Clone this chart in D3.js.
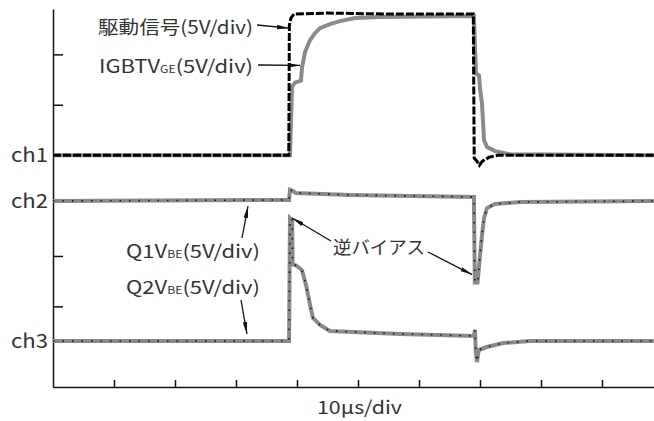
<!DOCTYPE html>
<html>
<head>
<meta charset="utf-8">
<script src="https://cdn.jsdelivr.net/npm/d3@7"></script>
<style>
body { margin: 0; background: #fff; }
text { font-family: "Noto Sans CJK JP", "Noto Sans", sans-serif; fill: #333; }
</style>
</head>
<body>
<div id="chart"></div>
<script>
// time in µs, voltage in V (5V/div), each channel has its own offset in divisions
var xTicks = [10, 20, 30, 40, 50, 60, 70, 80, 90];
var yTicks = [2, 1, -2, -3];
var channels = ["ch1", "ch2", "ch3"];
var offsets = [0, -0.909, -3.687];

// 駆動信号 (black, ch1)
var driveT = [0, 38.65, 38.75, 39.0, 39.5, 45, 55, 68.9, 69.05, 69.5, 69.9, 70.4, 71.5, 73, 98.5];
var driveV = [0, 0, 12.9, 13.6, 14.0, 14.1, 14.0, 14.0, -0.3, -0.6, -1.0, -0.6, -0.2, 0, 0];

// IGBT VGE (gray, ch1)
var vgeT = [0, 38.85, 39.18, 39.67, 40.66, 40.82, 41.31, 42.13, 42.95, 43.77, 45.41, 47.05, 49.5, 53.6, 69.0, 69.34, 69.84, 70.0, 70.33, 70.66, 71.15, 72.46, 74.9, 98.5];
var vgeV = [0, 0, 6.8, 7.2, 7.4, 8.7, 10.2, 11.4, 12.1, 12.6, 13.0, 13.3, 13.6, 13.7, 13.8, 8.1, 7.9, 6.6, 5.1, 1.5, 0.8, 0.4, 0.1, 0];

// Q1 VBE (gray, ch2)
var q1T = [0, 38.7, 38.85, 39.3, 39.8, 48.7, 69.0, 69.15, 69.6, 70.0, 70.33, 70.66, 71.15, 72.46, 76.6, 98.5];
var q1V = [0, 0.1, 1.1, 1.0, 0.8, 0.6, 0.4, -8.1, -8.1, -5.4, -3.4, -1.7, -0.7, -0.3, -0.1, 0];

// Q2 VBE (gray, ch3)
var q2T = [0, 38.7, 38.85, 39.2, 39.28, 39.8, 40.5, 40.82, 41.5, 42.13, 42.6, 43.77, 45.4, 56.9, 69.0, 69.18, 69.3, 69.5, 69.8, 71.1, 73.8, 78.2, 98.5];
var q2V = [0, 0, 12.2, 12.0, 7.6, 7.5, 7.2, 7.0, 5.5, 3.6, 2.3, 1.6, 1.0, 0.7, 0.5, 1.1, -1.0, -2.1, -0.9, -0.6, -0.2, 0, 0];

var width = 654, height = 421;

var svg = d3.select("#chart")
	.append("svg")
	.attr("width", width)
	.attr("height", height);

var x = d3.scaleLinear().domain([0, 100]).range([53, 663]);
var y = d3.scaleLinear().domain([-4.6, 2.9]).range([387, 9]);

function pts(ts, vs, ch) {
	return ts.map(function(t, i) { return [t, offsets[ch] + vs[i] / 5]; });
}
var line = d3.line()
	.x(function(d) { return x(d[0]); })
	.y(function(d) { return y(d[1]); });

var defs = svg.append("defs");
defs.append("marker")
	.attr("id", "arr")
	.attr("viewBox", "0 -3 12 6")
	.attr("refX", 12).attr("refY", 0)
	.attr("markerWidth", 12).attr("markerHeight", 6)
	.attr("markerUnits", "userSpaceOnUse")
	.attr("orient", "auto")
	.append("path")
	.attr("d", "M0,-2.2L12,0L0,2.2Z")
	.attr("fill", "#111");

// axes
svg.append("g")
	.attr("transform", "translate(53,0)")
	.call(d3.axisRight(y).tickValues(yTicks).tickSize(10).tickSizeOuter(0).tickFormat(""))
	.call(function(g) { g.selectAll("path,line").attr("stroke", "#111").attr("stroke-width", 1.5); });

svg.append("g")
	.attr("transform", "translate(0,387)")
	.call(d3.axisTop(x).tickValues(xTicks).tickSize(7).tickSizeOuter(0).tickFormat(""))
	.call(function(g) { g.selectAll("path,line").attr("stroke", "#111").attr("stroke-width", 1.5); });

// traces
var gray = "#8a8a8a";
svg.append("path").datum(pts(vgeT, vgeV, 0)).attr("d", line)
	.attr("fill", "none").attr("stroke", gray).attr("stroke-width", 4);
svg.append("path").datum(pts(driveT, driveV, 0)).attr("d", line)
	.attr("fill", "none").attr("stroke", "#000").attr("stroke-width", 3)
	.attr("stroke-dasharray", "8,2");

[[q1T, q1V, 1], [q2T, q2V, 2]].forEach(function(s) {
	var d = pts(s[0], s[1], s[2]);
	svg.append("path").datum(d).attr("d", line)
		.attr("fill", "none").attr("stroke", gray).attr("stroke-width", 4);
	svg.append("path").datum(d).attr("d", line)
		.attr("fill", "none").attr("stroke", "#111").attr("stroke-width", 1.6)
		.attr("stroke-dasharray", "1.5,8");
});

// channel labels
svg.selectAll(".ch")
	.data(channels)
	.enter().append("text")
	.attr("class", "ch")
	.attr("x", 11)
	.attr("y", function(d, i) { return y(offsets[i]) + 7; })
	.attr("font-size", 19)
	.attr("textLength", 37)
	.attr("lengthAdjust", "spacingAndGlyphs")
	.text(function(d) { return d; });

// labels
function label(px, py, len, main, sub, rest) {
	var t = svg.append("text").attr("x", px).attr("y", py).attr("font-size", 18)
		.attr("textLength", len).attr("lengthAdjust", "spacingAndGlyphs");
	t.append("tspan").text(main);
	if (sub) {
		t.append("tspan").attr("font-size", 10).text(sub);
		t.append("tspan").text(rest);
	}
}
label(98, 34, 155, "駆動信号(5V/div)");
label(99, 73, 154, "IGBTV", "GE", "(5V/div)");
label(126, 258, 134, "Q1V", "BE", "(5V/div)");
label(126, 294, 134, "Q2V", "BE", "(5V/div)");
label(333, 254, 92, "逆バイアス");
label(317, 414, 85, "10µs/div");

// arrows: tail in px, tip on the trace in data units [t, channel, v]
var arrows = [
	[257, 25, 38.69, 0, 12.6],
	[258, 65, 40.5, 0, 8.9],
	[242, 238, 31.97, 1, -0.5],
	[241, 300, 31.8, 2, 0.7],
	[331, 241, 39.2, 2, 12.2],
	[428, 252, 68.7, 1, -7.3]
];
svg.selectAll(".arrow")
	.data(arrows)
	.enter().append("line")
	.attr("class", "arrow")
	.attr("x1", function(d) { return d[0]; })
	.attr("y1", function(d) { return d[1]; })
	.attr("x2", function(d) { return x(d[2]); })
	.attr("y2", function(d) { return y(offsets[d[3]] + d[4] / 5); })
	.attr("stroke", "#111")
	.attr("stroke-width", 1.3)
	.attr("marker-end", "url(#arr)");
</script>
</body>
</html>
